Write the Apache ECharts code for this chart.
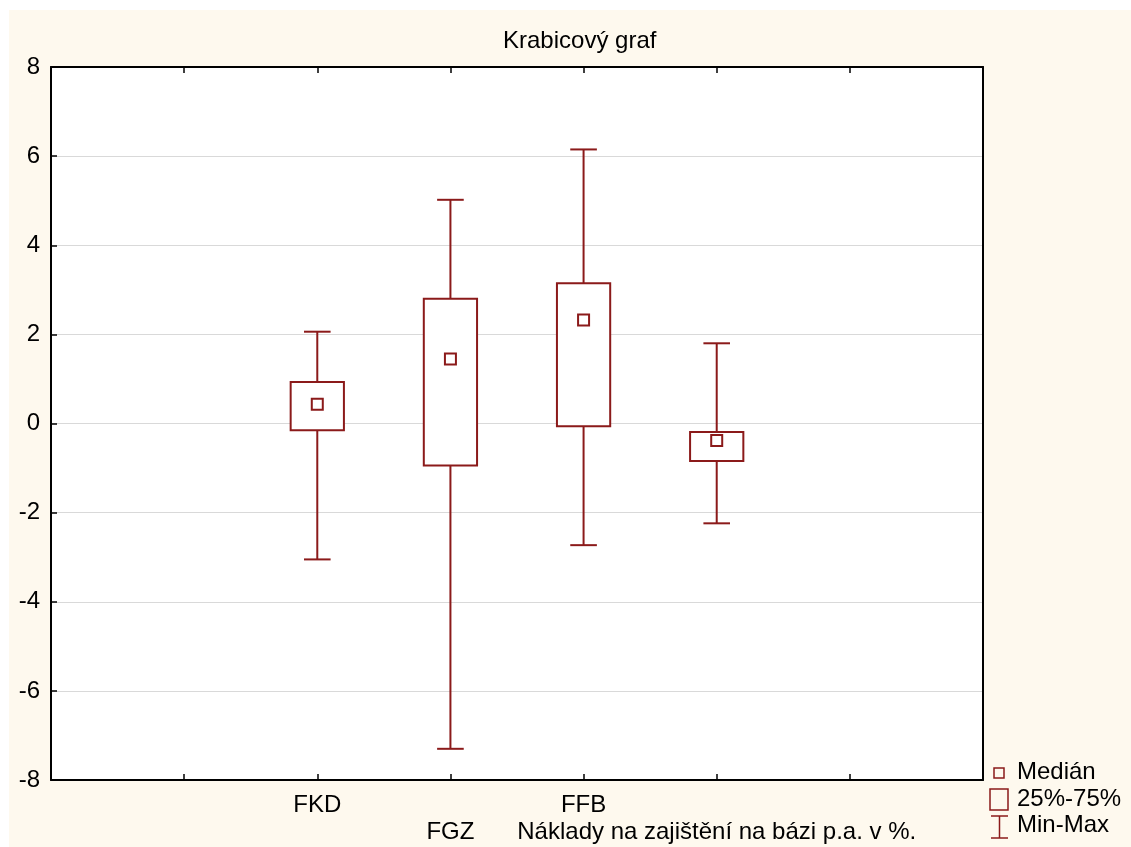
<!DOCTYPE html>
<html>
<head>
<meta charset="utf-8">
<script src="https://cdn.jsdelivr.net/npm/echarts@6/dist/echarts.min.js"></script>
<style>
  html, body { margin: 0; padding: 0; background: #ffffff; }
  #chart { width: 1131px; height: 847px; }
</style>
</head>
<body>
<div id="chart"></div>
<script>
// ---- Data ----
const xLabels = ['', '', 'FKD', 'FGZ', 'FFB', 'Náklady na zajištění na bázi p.a. v %.', '', ''];
const boxNames = ['FKD', 'FGZ', 'FFB', 'Náklady na zajištění na bázi p.a. v %.'];
const minValues    = [-3.05, -7.30, -2.73, -2.24];
const q1Values     = [-0.15, -0.94, -0.06, -0.84];
const medianValues = [ 0.43,  1.45,  2.32, -0.38];
const q3Values     = [ 0.93,  2.80,  3.15, -0.19];
const maxValues    = [ 2.06,  5.02,  6.15,  1.80];
const yTicks = [-8, -6, -4, -2, 0, 2, 4, 6, 8];
const legendLabels = ['Medián', '25%-75%', 'Min-Max'];

const RED = '#8B1A1A';
const FONT = "'Liberation Sans', Arial, sans-serif";
const FS = 24;

const seriesData = boxNames.map((n, i) => [xLabels.indexOf(n), minValues[i], q1Values[i], medianValues[i], q3Values[i], maxValues[i]]);

function renderBox(params, api) {
  const x = api.value(0);
  const pMin = api.coord([x, api.value(1)]);
  const pQ1 = api.coord([x, api.value(2)]);
  const pMed = api.coord([x, api.value(3)]);
  const pQ3 = api.coord([x, api.value(4)]);
  const pMax = api.coord([x, api.value(5)]);
  const band = api.size([1, 0])[0];
  const boxW = band * 0.4;
  const capW = band * 0.2;
  const medS = 11;
  const cx = pMin[0];
  const ls = { stroke: RED, lineWidth: 2, fill: null };
  return {
    type: 'group',
    children: [
      { type: 'line', shape: { x1: cx, y1: pMax[1], x2: cx, y2: pQ3[1] }, style: ls },
      { type: 'line', shape: { x1: cx, y1: pQ1[1], x2: cx, y2: pMin[1] }, style: ls },
      { type: 'line', shape: { x1: cx - capW / 2, y1: pMax[1], x2: cx + capW / 2, y2: pMax[1] }, style: ls },
      { type: 'line', shape: { x1: cx - capW / 2, y1: pMin[1], x2: cx + capW / 2, y2: pMin[1] }, style: ls },
      { type: 'rect', shape: { x: cx - boxW / 2, y: pQ3[1], width: boxW, height: pQ1[1] - pQ3[1] },
        style: { stroke: RED, lineWidth: 2, fill: '#ffffff' } },
      { type: 'rect', shape: { x: cx - medS / 2, y: pMed[1] - medS / 2, width: medS, height: medS },
        style: { stroke: RED, lineWidth: 2, fill: '#ffffff' } }
    ]
  };
}

const chart = echarts.init(document.getElementById('chart'), null, { renderer: 'canvas' });

const legendText = (y, txt) => ({
  type: 'text', left: 1017, top: y - 13,
  style: { text: txt, font: FS + 'px ' + FONT, fill: '#000' }
});

chart.setOption({
  animation: false,
  backgroundColor: 'transparent',
  title: {
    text: 'Krabicový graf',
    left: 498, top: 24,
    textStyle: { fontFamily: FONT, fontSize: FS, fontWeight: 'normal', color: '#000' }
  },
  grid: {
    left: 51, top: 67, right: 148, bottom: 67,
    show: true, backgroundColor: '#ffffff', borderWidth: 0
  },
  xAxis: [
    {
      type: 'value', min: 0, max: 7, interval: 1, position: 'bottom',
      axisLine: { show: true, onZero: false, lineStyle: { color: '#000', width: 2 } },
      axisTick: { show: true, inside: true, length: 6, lineStyle: { color: '#000', width: 1.5 } },
      splitLine: { show: false },
      axisLabel: {
        show: true, margin: 12, fontFamily: FONT, fontSize: FS, color: '#000', lineHeight: 27,
        showMinLabel: true, showMaxLabel: true,
        formatter: function (v) {
          const i = Math.round(v);
          const t = xLabels[i] || '';
          if (!t) return '';
          return i % 2 === 1 ? '\n' + t : t;
        }
      }
    },
    {
      type: 'value', min: 0, max: 7, interval: 1, position: 'top',
      axisLine: { show: true, onZero: false, lineStyle: { color: '#000', width: 2 } },
      axisTick: { show: true, inside: true, length: 6, lineStyle: { color: '#000', width: 1.5 } },
      splitLine: { show: false },
      axisLabel: { show: false }
    }
  ],
  yAxis: [
    {
      type: 'value', min: yTicks[0], max: yTicks[yTicks.length - 1], interval: 2, position: 'left',
      axisLine: { show: true, onZero: false, lineStyle: { color: '#000', width: 2 } },
      axisTick: { show: true, inside: true, length: 6, lineStyle: { color: '#000', width: 1.5 } },
      splitLine: { show: true, lineStyle: { color: '#d9d9d9', width: 1 } },
      axisLabel: { margin: 11, fontFamily: FONT, fontSize: FS, color: '#000' }
    },
    {
      type: 'value', min: yTicks[0], max: yTicks[yTicks.length - 1], interval: 2, position: 'right',
      axisLine: { show: true, onZero: false, lineStyle: { color: '#000', width: 2 } },
      axisTick: { show: false },
      splitLine: { show: false },
      axisLabel: { show: false }
    }
  ],
  graphic: [
    { type: 'rect', z: -100, silent: true, shape: { x: 9, y: 10, width: 1122, height: 837 }, style: { fill: '#fef9ee' } },
    // legend icons
    { type: 'rect', shape: { x: 994, y: 768, width: 10, height: 10 }, style: { stroke: RED, lineWidth: 1.5, fill: 'transparent' } },
    { type: 'rect', shape: { x: 990, y: 789, width: 18, height: 21 }, style: { stroke: RED, lineWidth: 1.5, fill: 'transparent' } },
    { type: 'line', shape: { x1: 991, y1: 816, x2: 1008, y2: 816 }, style: { stroke: RED, lineWidth: 1.5 } },
    { type: 'line', shape: { x1: 999.5, y1: 816, x2: 999.5, y2: 838 }, style: { stroke: RED, lineWidth: 1.5 } },
    { type: 'line', shape: { x1: 991, y1: 838, x2: 1008, y2: 838 }, style: { stroke: RED, lineWidth: 1.5 } },
    legendText(773, legendLabels[0]),
    legendText(800, legendLabels[1]),
    legendText(826, legendLabels[2])
  ],
  series: [
    {
      type: 'custom',
      xAxisIndex: 0, yAxisIndex: 0,
      renderItem: renderBox,
      data: seriesData,
      encode: { x: 0, y: [1, 2, 3, 4, 5] },
      z: 5
    }
  ]
});
</script>
</body>
</html>
